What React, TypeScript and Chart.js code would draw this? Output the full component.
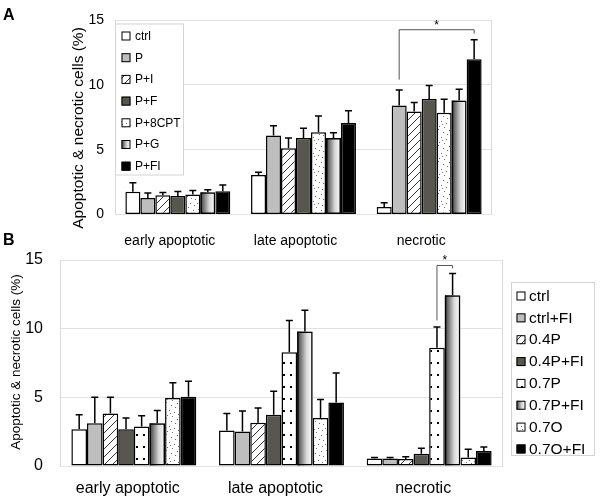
import React, { useEffect, useRef } from 'react';
import { Chart, registerables } from 'chart.js';

Chart.register(...registerables);

// ---------- data ----------
const categories = ['early apoptotic', 'late apoptotic', 'necrotic'];
const yMin = 0;
const yMax = 15;
const yStep = 5;

// Panel A
const seriesA = ['ctrl', 'P', 'P+I', 'P+F', 'P+8CPT', 'P+G', 'P+FI'];
const aCtrl = [1.75, 3.05, 0.58];
const aP = [1.28, 6.1, 8.4];
const aPI = [1.48, 5.1, 7.95];
const aPF = [1.42, 5.9, 8.9];
const aP8CPT = [1.55, 6.35, 7.85];
const aPG = [1.72, 5.9, 8.8];
const aPFI = [1.8, 7.05, 11.97];
const aCtrlErr = [0.7, 0.2, 0.32];
const aPErr = [0.37, 0.75, 1.2];
const aPIErr = [0.22, 0.8, 0.68];
const aPFErr = [0.36, 0.75, 1.05];
const aP8CPTErr = [0.3, 1.25, 1.04];
const aPGErr = [0.18, 0.4, 0.85];
const aPFIErr = [0.48, 0.95, 1.5];
// significance bracket A: [category, left series, right series] and y values [left foot, top, right foot]
const sigA = [2, 1, 6];
const sigAY = [10.4, 14.25, 13.95];

// Panel B
const seriesB = ['ctrl', 'ctrl+FI', '0.4P', '0.4P+FI', '0.7P', '0.7P+FI', '0.7O', '0.7O+FI'];
const bCtrl = [2.68, 2.58, 0.54];
const bCtrlFI = [3.12, 2.51, 0.54];
const b04P = [3.83, 3.15, 0.51];
const b04PFI = [2.68, 3.73, 0.9];
const b07P = [2.88, 8.29, 8.61];
const b07PFI = [3.12, 9.8, 12.44];
const b07O = [4.95, 3.49, 0.61];
const b07OFI = [5.05, 4.63, 1.1];
const bCtrlErr = [1.05, 1.25, 0.07];
const bCtrlFIErr = [1.88, 1.5, 0.07];
const b04PErr = [1.17, 1.07, 0.17];
const b04PFIErr = [0.81, 1.71, 0.39];
const b07PErr = [0.78, 2.31, 1.51];
const b07PFIErr = [0.93, 1.54, 1.58];
const b07OErr = [1.12, 1.36, 0.61];
const b07OFIErr = [1.12, 2.15, 0.29];
const sigB = [2, 4, 5];
const sigBY = [10.6, 14.6, 14.4];

const valuesA = [aCtrl, aP, aPI, aPF, aP8CPT, aPG, aPFI];
const errorsA = [aCtrlErr, aPErr, aPIErr, aPFErr, aP8CPTErr, aPGErr, aPFIErr];
const valuesB = [bCtrl, bCtrlFI, b04P, b04PFI, b07P, b07PFI, b07O, b07OFI];
const errorsB = [bCtrlErr, bCtrlFIErr, b04PErr, b04PFIErr, b07PErr, b07PFIErr, b07OErr, b07OFIErr];

// ---------- styles ----------
type Fill = 'white' | 'light' | 'hatch' | 'dark' | 'speckle' | 'dots' | 'gradient' | 'black';
const fillsA: Fill[] = ['white', 'light', 'hatch', 'dark', 'speckle', 'gradient', 'black'];
const fillsB: Fill[] = ['white', 'light', 'hatch', 'dark', 'dots', 'gradient', 'speckle', 'black'];
const FONT = '"Liberation Sans", Arial, Helvetica, sans-serif';
const SPECKLE = [[1, 2], [6, 1], [11, 4], [3, 7], [9, 9], [14, 11], [2, 13], [7, 14], [12, 15], [5, 11], [15, 6], [10, 12]];

function tile(ctx: CanvasRenderingContext2D, w: number, h: number, draw: (g: CanvasRenderingContext2D) => void) {
  const c = document.createElement('canvas');
  c.width = w;
  c.height = h;
  const g = c.getContext('2d') as CanvasRenderingContext2D;
  g.fillStyle = '#ffffff';
  g.fillRect(0, 0, w, h);
  draw(g);
  return ctx.createPattern(c, 'repeat') as CanvasPattern;
}

function makePaint(ctx: CanvasRenderingContext2D, kind: Fill, x0 = 0, x1 = 10): any {
  switch (kind) {
    case 'white':
      return '#ffffff';
    case 'light':
      return '#bebebe';
    case 'dark':
      return '#57574f';
    case 'black':
      return '#000000';
    case 'hatch':
      return tile(ctx, 8, 8, (g) => {
        g.strokeStyle = '#333333';
        g.lineWidth = 1;
        g.beginPath();
        g.moveTo(-1, 9);
        g.lineTo(9, -1);
        g.moveTo(-1, 1);
        g.lineTo(1, -1);
        g.moveTo(7, 9);
        g.lineTo(9, 7);
        g.stroke();
      });
    case 'speckle':
      return tile(ctx, 16, 16, (g) => {
        g.fillStyle = '#707070';
        for (const [x, y] of SPECKLE) g.fillRect(x, y, 1, 1);
      });
    case 'dots':
      return tile(ctx, 7, 12, (g) => {
        g.fillStyle = '#000000';
        g.fillRect(3, 5, 2, 2);
      });
    case 'gradient': {
      const gr = ctx.createLinearGradient(x0, 0, x1, 0);
      gr.addColorStop(0, '#3a3a3a');
      gr.addColorStop(0.6, '#d8d8d8');
      gr.addColorStop(1, '#ffffff');
      return gr;
    }
  }
  return '#ffffff';
}

interface PanelCfg {
  letter: string;
  letterX: number;
  letterY: number;
  title: string;
  titleX: number;
  titleCY: number;
  titleSize: number;
  names: string[];
  fills: Fill[];
  values: number[][];
  errors: number[][];
  sig: number[];
  sigY: number[];
  legendBox: number[];
  legendY0: number;
  legendStep: number;
  swatchX: number;
  textX: number;
  legendFont: number;
}

function panelPlugin(cfg: PanelCfg) {
  return {
    id: 'panel' + cfg.letter,
    beforeDatasetsDraw(chart: any) {
      const { ctx, chartArea: a } = chart;
      ctx.save();
      ctx.strokeStyle = '#d9d9d9';
      ctx.lineWidth = 1;
      ctx.beginPath();
      ctx.moveTo(a.left + 0.5, a.top);
      ctx.lineTo(a.left + 0.5, a.bottom);
      ctx.moveTo(a.right - 0.5, a.top);
      ctx.lineTo(a.right - 0.5, a.bottom);
      ctx.stroke();
      ctx.restore();
    },
    beforeDatasetDraw(chart: any, args: any) {
      const i = args.index;
      if (cfg.fills[i] !== 'gradient') return;
      const ctx = chart.ctx as CanvasRenderingContext2D;
      ctx.save();
      args.meta.data.forEach((el: any) => {
        const l = el.x - el.width / 2;
        ctx.fillStyle = makePaint(ctx, 'gradient', l, l + el.width);
        ctx.fillRect(l, Math.min(el.y, el.base), el.width, Math.abs(el.base - el.y));
      });
      ctx.restore();
    },
    afterDatasetsDraw(chart: any) {
      const ctx = chart.ctx as CanvasRenderingContext2D;
      const ys = chart.scales.y;
      ctx.save();
      // error bars
      ctx.strokeStyle = '#000000';
      ctx.lineWidth = 1.5;
      cfg.values.forEach((vals, i) => {
        const meta = chart.getDatasetMeta(i);
        meta.data.forEach((el: any, j: number) => {
          const top = ys.getPixelForValue(vals[j] + cfg.errors[i][j]);
          ctx.beginPath();
          ctx.moveTo(el.x, el.y);
          ctx.lineTo(el.x, top);
          ctx.moveTo(el.x - 3.5, top);
          ctx.lineTo(el.x + 3.5, top);
          ctx.stroke();
        });
      });
      // significance bracket
      const [cat, s1, s2] = cfg.sig;
      const x1 = chart.getDatasetMeta(s1).data[cat].x;
      const x2 = chart.getDatasetMeta(s2).data[cat].x;
      const yl = ys.getPixelForValue(cfg.sigY[0]);
      const yt = ys.getPixelForValue(cfg.sigY[1]);
      const yr = ys.getPixelForValue(cfg.sigY[2]);
      ctx.strokeStyle = '#555555';
      ctx.lineWidth = 1;
      ctx.beginPath();
      ctx.moveTo(x1, yl);
      ctx.lineTo(x1, yt);
      ctx.lineTo(x2, yt);
      ctx.lineTo(x2, yr);
      ctx.stroke();
      ctx.fillStyle = '#000000';
      ctx.font = `12px ${FONT}`;
      ctx.textAlign = 'center';
      ctx.textBaseline = 'alphabetic';
      ctx.fillText('*', (x1 + x2) / 2, yt - 1);
      // legend
      const [lx, ly, lw, lh] = cfg.legendBox;
      ctx.fillStyle = '#ffffff';
      ctx.fillRect(lx, ly, lw, lh);
      ctx.strokeStyle = '#d4d4d4';
      ctx.lineWidth = 1;
      ctx.strokeRect(lx + 0.5, ly + 0.5, lw - 1, lh - 1);
      ctx.font = `${cfg.legendFont}px ${FONT}`;
      ctx.textAlign = 'left';
      ctx.textBaseline = 'middle';
      cfg.names.forEach((name, i) => {
        const cy = cfg.legendY0 + i * cfg.legendStep;
        const sx = cfg.swatchX;
        const sy = cy - 4.5;
        ctx.fillStyle = makePaint(ctx, cfg.fills[i], sx, sx + 9);
        ctx.fillRect(sx, sy, 9, 9);
        ctx.strokeStyle = '#000000';
        ctx.lineWidth = 1;
        ctx.strokeRect(sx + 0.5, sy + 0.5, 8, 8);
        ctx.fillStyle = '#000000';
        ctx.fillText(name, cfg.textX, cy + 0.5);
      });
      // y-axis title
      ctx.save();
      ctx.translate(cfg.titleX, cfg.titleCY);
      ctx.rotate(-Math.PI / 2);
      ctx.font = `${cfg.titleSize}px ${FONT}`;
      ctx.textAlign = 'center';
      ctx.textBaseline = 'middle';
      ctx.fillStyle = '#000000';
      ctx.fillText(cfg.title, 0, 0);
      ctx.restore();
      // panel letter
      ctx.font = `bold 16px ${FONT}`;
      ctx.textAlign = 'left';
      ctx.textBaseline = 'alphabetic';
      ctx.fillStyle = '#000000';
      ctx.fillText(cfg.letter, cfg.letterX, cfg.letterY);
      ctx.restore();
    },
  };
}

interface Geo {
  yWidth: number;
  xHeight: number;
  padTop: number;
  padRight: number;
  padBottom: number;
  fontSize: number;
  yPad: number;
  xPad: number;
  labelOffset: number;
  catPct: number;
}

function buildChart(canvas: HTMLCanvasElement, geo: Geo, cfg: PanelCfg) {
  const ctx = canvas.getContext('2d') as CanvasRenderingContext2D;
  return new Chart(canvas, {
    type: 'bar',
    data: {
      labels: categories,
      datasets: cfg.names.map((name, i) => ({
        label: name,
        data: cfg.values[i],
        backgroundColor: cfg.fills[i] === 'gradient' ? 'rgba(0,0,0,0)' : makePaint(ctx, cfg.fills[i]),
        borderColor: '#000000',
        borderWidth: 1.5,
        borderSkipped: false,
        categoryPercentage: geo.catPct,
        barPercentage: 1,
      })),
    },
    options: {
      responsive: false,
      animation: false,
      events: [],
      layout: { padding: { left: 0, top: geo.padTop, right: geo.padRight, bottom: geo.padBottom } },
      plugins: { legend: { display: false }, tooltip: { enabled: false }, title: { display: false } },
      scales: {
        x: {
          grid: { display: false },
          border: { display: false },
          ticks: {
            color: '#000000',
            font: { family: FONT, size: geo.fontSize },
            padding: geo.xPad,
            labelOffset: geo.labelOffset,
            maxRotation: 0,
          },
          afterFit: (s: any) => {
            s.height = geo.xHeight;
          },
        },
        y: {
          min: yMin,
          max: yMax,
          grid: { color: '#e2e2e2', drawTicks: false, lineWidth: 1 },
          border: { display: false },
          ticks: {
            stepSize: yStep,
            color: '#000000',
            font: { family: FONT, size: geo.fontSize },
            padding: geo.yPad,
          },
          afterFit: (s: any) => {
            s.width = geo.yWidth;
          },
        },
      },
    } as any,
    plugins: [panelPlugin(cfg) as any],
  });
}

const TITLE = 'Apoptotic & necrotic cells (%)';

export default function App() {
  const refA = useRef<HTMLCanvasElement>(null);
  const refB = useRef<HTMLCanvasElement>(null);

  useEffect(() => {
    const chartA = buildChart(
      refA.current as HTMLCanvasElement,
      {
        yWidth: 115,
        xHeight: 40,
        padTop: 20,
        padRight: 108,
        padBottom: 0.5,
        fontSize: 14,
        yPad: 11,
        xPad: 10,
        labelOffset: -8,
        catPct: 0.835,
      },
      {
        letter: 'A',
        letterX: 3,
        letterY: 20,
        title: TITLE,
        titleX: 79,
        titleCY: 128,
        titleSize: 15.5,
        names: seriesA,
        fills: fillsA,
        values: valuesA,
        errors: errorsA,
        sig: sigA,
        sigY: sigAY,
        legendBox: [115, 23.5, 69, 152],
        legendY0: 36,
        legendStep: 21.7,
        swatchX: 121.5,
        textX: 135,
        legendFont: 12,
      }
    );
    const chartB = buildChart(
      refB.current as HTMLCanvasElement,
      {
        yWidth: 60,
        xHeight: 32,
        padTop: 35,
        padRight: 97,
        padBottom: 0,
        fontSize: 16,
        yPad: 17,
        xPad: 5,
        labelOffset: -6,
        catPct: 0.846,
      },
      {
        letter: 'B',
        letterX: 3,
        letterY: 20,
        title: TITLE,
        titleX: 16,
        titleCY: 137,
        titleSize: 13.5,
        names: seriesB,
        fills: fillsB,
        values: valuesB,
        errors: errorsB,
        sig: sigB,
        sigY: sigBY,
        legendBox: [511, 57, 84, 174],
        legendY0: 71,
        legendStep: 21.85,
        swatchX: 516.5,
        textX: 529,
        legendFont: 15.5,
      }
    );
    return () => {
      chartA.destroy();
      chartB.destroy();
    };
  }, []);

  return (
    <div style={{ position: 'absolute', left: 0, top: 0, width: 600, height: 498, background: '#ffffff' }}>
      <canvas ref={refA} width={600} height={255} style={{ position: 'absolute', left: 0, top: 0, width: 600, height: 255 }} />
      <canvas ref={refB} width={600} height={273} style={{ position: 'absolute', left: 0, top: 225, width: 600, height: 273 }} />
    </div>
  );
}
